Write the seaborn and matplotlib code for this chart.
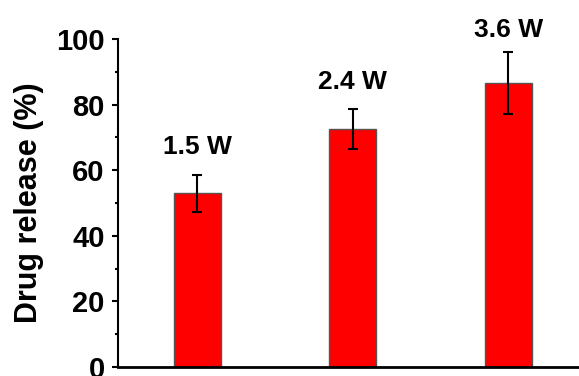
import matplotlib
matplotlib.use("Agg")
import matplotlib.pyplot as plt
import seaborn as sns
import pandas as pd
from matplotlib.ticker import MultipleLocator

# Data
powers = ["1.5 W", "2.4 W", "3.6 W"]
release = [52.9, 72.6, 86.6]
release_err = [5.7, 6.1, 9.35]
label_offsets_pt = [20, 19, 16]

sns.set_style("ticks", {"text.color": "black", "axes.labelcolor": "black",
                        "xtick.color": "black", "ytick.color": "black",
                        "axes.edgecolor": "black"})
plt.rcParams["font.family"] = ["Liberation Sans", "DejaVu Sans"]
plt.rcParams["font.weight"] = "bold"

df = pd.DataFrame({"power": powers, "release": release})

fig = plt.figure(figsize=(5.79, 3.76), dpi=100)
ax = fig.add_axes([118 / 579, 9 / 376, 461 / 579, 328 / 376])

sns.barplot(data=df, x="power", y="release", ax=ax, color="#ff0000",
            saturation=1, width=0.302, edgecolor="#555555", linewidth=1,
            errorbar=None)
for p in ax.patches:
    p.set_facecolor("#ff0000")

xs = list(range(len(powers)))
ax.errorbar(xs, release, yerr=release_err, fmt="none", ecolor="black",
            elinewidth=1.5, capsize=3.3, capthick=1.5, zorder=5)

for x, v, e, lab, off in zip(xs, release, release_err, powers, label_offsets_pt):
    ax.annotate(lab, xy=(x, v + e), xytext=(0, off), textcoords="offset points",
                ha="center", va="center", fontsize=19, fontweight="bold",
                color="black")

ax.set_ylim(0, 100)
ax.set_xlim(-0.511, 2.454)
ax.yaxis.set_major_locator(MultipleLocator(20))
ax.yaxis.set_minor_locator(MultipleLocator(10))
ax.tick_params(axis="y", which="major", length=4, width=1.5, pad=5.5,
               labelsize=21, direction="out", colors="black")
ax.tick_params(axis="y", which="minor", length=2, width=1.5, direction="out",
               colors="black")
ax.tick_params(axis="x", which="both", bottom=False, labelbottom=False)
for lab in ax.get_yticklabels():
    lab.set_fontweight("bold")

ax.set_xlabel("")
ax.set_ylabel("Drug release (%)", fontsize=22, fontweight="bold", labelpad=9,
              color="black")

sns.despine(ax=ax, top=True, right=True)
ax.spines["left"].set_linewidth(1.5)
ax.spines["bottom"].set_linewidth(2)
ax.spines["left"].set_color("black")
ax.spines["bottom"].set_color("black")

fig.savefig("out.png", dpi=100)
